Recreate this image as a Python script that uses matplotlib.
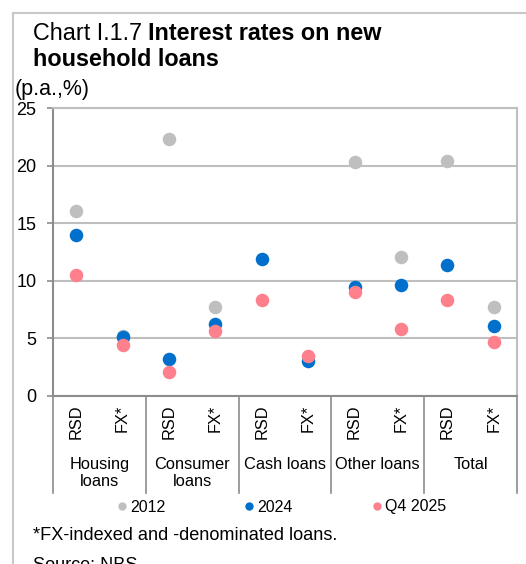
import matplotlib.pyplot as plt
from matplotlib.lines import Line2D
from matplotlib.patches import Rectangle
import matplotlib.transforms as mtransforms

plt.rcParams["font.family"] = ["Liberation Sans", "DejaVu Sans"]

GROUPS = ["Housing\nloans", "Consumer\nloans", "Cash loans", "Other loans", "Total"]
CURRENCIES = ["RSD", "FX*"]

# one value per (group, currency) slot; None = no observation
RATES_2012 = [16.1, 5.2, 22.3, 7.7, None, None, 20.3, 12.1, 20.4, 7.75]
RATES_2024 = [14.0, 5.1, 3.25, 6.25, 11.85, 3.05, 9.45, 9.6, 11.4, 6.05]
RATES_Q4_2025 = [10.5, 4.4, 2.1, 5.65, 8.35, 3.45, 9.0, 5.8, 8.35, 4.65]

SERIES = [
    ("2012", RATES_2012, "#BFBFBF"),
    ("2024", RATES_2024, "#0070CC"),
    ("Q4 2025", RATES_Q4_2025, "#FF808D"),
]

GRID = "#BFBFBF"
AXIS = "#8C8C8C"

W, H = 526, 564
fig = plt.figure(figsize=(W / 100, H / 100), dpi=100)

# outer panel frame (open on the right and bottom)
fig.add_artist(Line2D([13 / W, 13 / W], [0, 1 - 13 / H], color="#C8C8C8",
                      linewidth=1.5, transform=fig.transFigure))
fig.add_artist(Line2D([13 / W, 1], [1 - 13 / H, 1 - 13 / H], color="#C8C8C8",
                      linewidth=1.5, transform=fig.transFigure))

TITLE_SIZE = 16.8
renderer = fig.canvas.get_renderer()
head = fig.text(33 / W, 1 - 33 / H, "Chart I.1.7 ", fontsize=TITLE_SIZE,
                va="center", ha="left")
bb = head.get_window_extent(renderer)
fig.text(bb.x1 / W, 1 - 33 / H, "Interest rates on new", fontsize=TITLE_SIZE,
         fontweight="bold", va="center", ha="left")
fig.text(33 / W, 1 - 60 / H, "household loans", fontsize=TITLE_SIZE,
         fontweight="bold", va="center", ha="left")
fig.text(15 / W, 1 - 89 / H, "(p.a.,%)", fontsize=15.5, va="center", ha="left")

ax = fig.add_axes([53 / W, 1 - 396 / H, (517 - 53) / W, (396 - 108) / H])

n = len(GROUPS) * len(CURRENCIES)
xs = list(range(n))
for name, vals, color in SERIES:
    px = [x for x, v in zip(xs, vals) if v is not None]
    py = [v for v in vals if v is not None]
    ax.scatter(px, py, s=95, color=color, linewidths=0, zorder=3, label=name)

ax.set_xlim(-0.5, n - 0.5)
ax.set_ylim(0, 25)
ax.set_yticks(range(0, 26, 5))
ax.yaxis.grid(True, color=GRID, linewidth=1.5)
ax.set_axisbelow(True)
ax.tick_params(axis="y", labelsize=13, length=4, color=AXIS, width=1.2, pad=8)
ax.set_xticks(xs)
ax.set_xticklabels(CURRENCIES * len(GROUPS), rotation=90, fontsize=11.8, va="top")
ax.tick_params(axis="x", length=0, pad=6)

for side in ("top", "right"):
    ax.spines[side].set_color(GRID)
    ax.spines[side].set_linewidth(1.5)
for side in ("left", "bottom"):
    ax.spines[side].set_color(AXIS)
    ax.spines[side].set_linewidth(1.5)

# group separators and group names below the axis
trans = mtransforms.blended_transform_factory(ax.transData, ax.transAxes)
sep_bottom = -(493 - 396) / (396 - 108)
for g in range(len(GROUPS) + 1):
    xb = g * len(CURRENCIES) - 0.5
    ax.plot([xb, xb], [0, sep_bottom], transform=trans, color=AXIS,
            linewidth=1.2, clip_on=False)
for g, label in enumerate(GROUPS):
    xc = g * len(CURRENCIES) + (len(CURRENCIES) - 1) / 2
    ax.text(xc, -(457 - 396) / (396 - 108), label, transform=trans,
            ha="center", va="top", fontsize=11.8, linespacing=1.2)

handles = [Line2D([], [], marker="o", linestyle="", markersize=6,
                  markerfacecolor=c, markeredgewidth=0) for _, _, c in SERIES]
fig.legend(handles, [s[0] for s in SERIES], loc="center",
           bbox_to_anchor=(280 / W, 1 - 507 / H), ncol=3, frameon=False,
           fontsize=11.5, handletextpad=0.0, columnspacing=4.75,
           handlelength=1.0)

fig.text(33 / W, 1 - 536 / H, "*FX-indexed and -denominated loans.",
         fontsize=13.1, va="center", ha="left")
fig.text(33 / W, 1 - 566 / H, "Source: NBS", fontsize=13.1, va="center", ha="left")

fig.savefig("out.png", dpi=100)
